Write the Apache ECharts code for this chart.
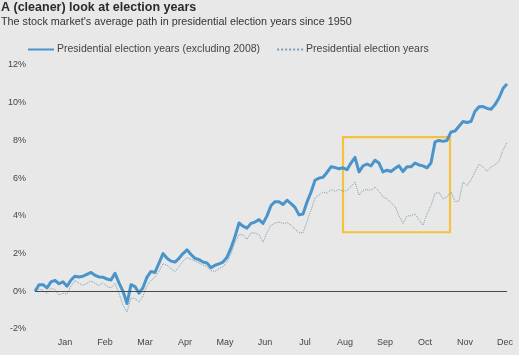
<!DOCTYPE html>
<html><head><meta charset="utf-8">
<script src="https://cdn.jsdelivr.net/npm/echarts@6/dist/echarts.min.js"></script>
<style>html,body{margin:0;padding:0;background:#e8e8e8}#c{width:519px;height:355px}</style>
</head><body><div id="c"></div>
<script>
// x index: one step per ~1.6 trading days; month label positions in index units
const months = ['Jan','Feb','Mar','Apr','May','Jun','Jul','Aug','Sep','Oct','Nov','Dec'];
const monthPos = [7.5,17.5,27.5,37.5,47.5,57.5,67.5,77.5,87.5,97.5,107.5,117.5];
const yTicks = [-2,0,2,4,6,8,10,12];

// Presidential election years (excluding 2008), % change
const excl2008 = [
0.0,0.35,0.35,0.18,0.5,0.58,0.4,0.5,0.27,0.6,
0.8,0.76,0.8,0.9,1.0,0.85,0.76,0.75,0.65,0.6,
0.95,0.45,0.0,-0.65,0.35,0.25,-0.1,0.2,0.75,1.05,
1.0,1.5,2.0,1.75,1.6,1.55,1.75,2.0,2.2,1.95,
1.75,1.68,1.55,1.5,1.25,1.38,1.45,1.55,1.8,2.3,
2.9,3.62,3.45,3.35,3.6,3.67,3.8,3.6,4.0,4.55,
4.75,4.75,4.6,4.83,4.65,4.45,4.05,4.1,4.73,5.25,
5.89,6.0,6.05,6.3,6.6,6.56,6.5,6.55,6.45,6.8,
7.1,6.33,6.65,6.75,6.65,6.95,6.8,6.33,6.42,6.35,
6.52,6.65,6.35,6.6,6.6,6.8,6.7,6.65,6.55,6.8,
7.92,8.0,7.95,8.0,8.45,8.5,8.75,9.0,8.95,9.0,
9.55,9.78,9.8,9.7,9.65,9.9,10.25,10.75,11.0
];
// All presidential election years, % change
const allYears = [
0.0,0.12,0.05,-0.12,0.15,0.1,-0.2,-0.1,-0.15,0.28,
0.58,0.42,0.32,0.42,0.55,0.42,0.3,0.45,0.25,0.18,
0.42,-0.1,-0.74,-1.1,-0.35,-0.38,-0.57,-0.25,0.3,0.58,
0.76,1.05,1.47,1.38,1.2,1.05,1.3,1.6,1.78,1.7,
1.6,1.5,1.4,1.3,1.1,1.05,1.2,1.3,1.55,2.0,
2.6,3.0,3.0,2.75,3.1,3.1,3.0,2.6,3.1,3.5,
3.62,3.67,3.6,3.65,3.5,3.3,3.1,3.1,3.7,4.3,
4.95,5.1,5.27,5.2,5.4,5.3,5.4,5.3,5.35,5.55,
5.8,5.09,5.35,5.4,5.35,5.53,5.3,5.0,4.9,4.7,
4.5,4.0,3.6,4.0,4.0,4.1,3.8,3.5,4.1,4.55,
5.18,5.25,4.9,5.0,5.27,4.75,4.8,5.8,5.6,5.9,
6.33,6.75,6.6,6.36,6.6,6.7,6.9,7.48,7.9
];
// highlight box (x index range, % range)
const boxX = [77, 103.75];
const boxY = [8.17, 3.13];

const toPairs = arr => arr.map((v,i)=>[i,v]);
const font = '"Liberation Sans", Arial, sans-serif';
const chart = echarts.init(document.getElementById('c'), null, {renderer:'canvas'});
chart.setOption({
  backgroundColor:'#e8e8e8',
  animation:false,
  textStyle:{fontFamily:font},
  title:{
    text:'A (cleaner) look at election years',
    subtext:"The stock market's average path in presidential election years since 1950",
    left:0, top:0, padding:[1,0,0,1], itemGap:3,
    textStyle:{fontSize:12.5, fontWeight:600, color:'#2b2b2b', fontFamily:font},
    subtextStyle:{fontSize:10.8, color:'#333', fontFamily:font}
  },
  legend:{
    top:39, left:22, itemWidth:26, itemHeight:8, itemGap:16,
    itemStyle:{opacity:0},
    textStyle:{fontSize:10.5, color:'#444', fontFamily:font, padding:[0,0,0,-2]},
    data:['Presidential election years (excluding 2008)','Presidential election years']
  },
  grid:{left:35, right:12, top:65, bottom:26, containLabel:false},
  xAxis:{
    type:'value', min:0, max:excl2008.length-1,
    axisLine:{show:false}, axisTick:{show:false}, splitLine:{show:false},
    axisLabel:{customValues:monthPos, margin:9, fontSize:9, color:'#444',
      formatter:v=>months[Math.round((v-7.5)/10)]}
  },
  yAxis:{
    type:'value', min:-2, max:12, interval:2,
    axisLine:{show:false}, axisTick:{show:false}, splitLine:{show:false},
    axisLabel:{margin:9, fontSize:9, color:'#444', formatter:v=>v+'%'}
  },
  series:[
    {
      name:'Presidential election years',
      type:'line', data:toPairs(allYears), symbol:'none', z:2,
      lineStyle:{color:'#7e9db0', width:1, type:'dotted'},
      itemStyle:{color:'#7e9db0'},
      markLine:{silent:true, symbol:'none', label:{show:false},
        lineStyle:{color:'#4a4a4a', width:1.2, type:'solid'}, data:[{yAxis:0}]}
    },
    {
      name:'Presidential election years (excluding 2008)',
      type:'line', data:toPairs(excl2008), symbol:'none', z:3,
      lineStyle:{color:'#4a94cc', width:3, join:'round'},
      itemStyle:{color:'#4a94cc'},
      markArea:{silent:true, itemStyle:{color:'rgba(0,0,0,0)', borderColor:'#f3c23f', borderWidth:2.2},
        data:[[{coord:[boxX[0],boxY[0]]},{coord:[boxX[1],boxY[1]]}]]}
    }
  ]
});
</script></body></html>
